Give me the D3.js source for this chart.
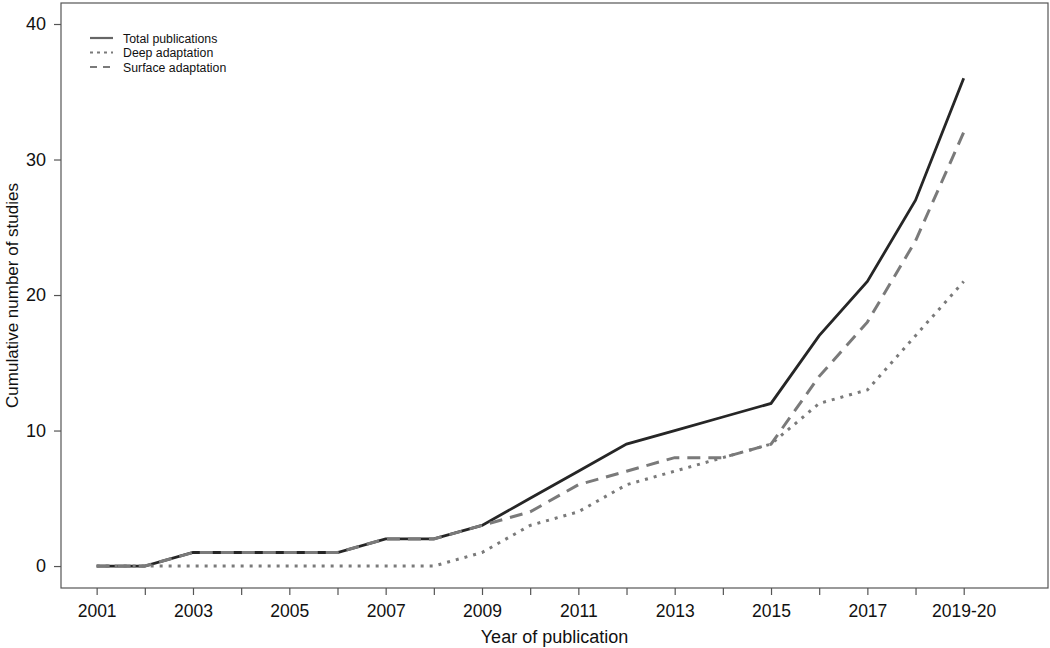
<!DOCTYPE html>
<html>
<head>
<meta charset="utf-8">
<script src="https://cdn.jsdelivr.net/npm/d3@7"></script>
<style>
  body { margin: 0; background: #fff; }
  svg { font-family: "Liberation Sans", Arial, sans-serif; }
</style>
</head>
<body>
<div id="chart"></div>
<script>
// data
const years = ["2001","2002","2003","2004","2005","2006","2007","2008","2009","2010",
               "2011","2012","2013","2014","2015","2016","2017","2018","2019-20"];
const totalPubs   = [0,0,1,1,1,1,2,2,3,5,7,9,10,11,12,17,21,27,36];
const deepAdapt   = [0,0,0,0,0,0,0,0,1,3,4,6,7,8,9,12,13,17,21];
const surfAdapt   = [0,0,1,1,1,1,2,2,3,4,6,7,8,8,9,14,18,24,32];
const xTickLabels = ["2001","2003","2005","2007","2009","2011","2013","2015","2017","2019-20"];
const yTicks = [0, 10, 20, 30, 40];

const width = 1050, height = 648;
const box = {left: 61, right: 1048, top: 3, bottom: 588};

const svg = d3.select("#chart").append("svg")
  .attr("width", width)
  .attr("height", height);

const x = d3.scaleLinear()
  .domain([-0.74, 19.75])
  .range([box.left, box.right]);

const y = d3.scaleLinear()
  .domain([-1.62, 41.55])
  .range([box.bottom, box.top]);

// frame
svg.append("rect")
  .attr("x", box.left).attr("y", box.top)
  .attr("width", box.right - box.left).attr("height", box.bottom - box.top)
  .attr("fill", "none").attr("stroke", "#555").attr("stroke-width", 1.2);

// x axis, one tick per year, label every other
const xAxis = d3.axisBottom(x)
  .tickValues(d3.range(years.length))
  .tickSize(7)
  .tickFormat(i => xTickLabels.includes(years[i]) ? years[i] : "");
const gx = svg.append("g")
  .attr("transform", `translate(0,${box.bottom})`)
  .call(xAxis);
gx.select(".domain").remove();
gx.selectAll(".tick line").attr("stroke", "#555").attr("stroke-width", 1.2);
gx.selectAll(".tick text").attr("font-size", 17.5).attr("fill", "#111")
  .attr("y", 29).attr("dy", 0);

// y axis
const yAxis = d3.axisLeft(y).tickValues(yTicks).tickSize(7);
const gy = svg.append("g")
  .attr("transform", `translate(${box.left},0)`)
  .call(yAxis);
gy.select(".domain").remove();
gy.selectAll(".tick line").attr("stroke", "#555").attr("stroke-width", 1.2);
gy.selectAll(".tick text").attr("font-size", 18).attr("fill", "#111").attr("x", -15);

// axis titles
svg.append("text")
  .attr("x", (box.left + box.right) / 2)
  .attr("y", 643)
  .attr("text-anchor", "middle")
  .attr("font-size", 18)
  .attr("fill", "#111")
  .text("Year of publication");

svg.append("text")
  .attr("transform", `translate(18,${(box.top + box.bottom) / 2}) rotate(-90)`)
  .attr("text-anchor", "middle")
  .attr("font-size", 17)
  .attr("fill", "#111")
  .text("Cumulative number of studies");

// series
const series = [
  {name: "Total publications", values: totalPubs, color: "#262626", width: 2.8, dash: null},
  {name: "Deep adaptation",    values: deepAdapt, color: "#7a7a7a", width: 3,   dash: "3,6"},
  {name: "Surface adaptation", values: surfAdapt, color: "#7a7a7a", width: 3,   dash: "13,8"}
];

const line = d3.line()
  .x((d, i) => x(i))
  .y(d => y(d));

svg.selectAll("path.series")
  .data(series)
  .join("path")
  .attr("class", "series")
  .attr("d", d => line(d.values))
  .attr("fill", "none")
  .attr("stroke", d => d.color)
  .attr("stroke-width", d => d.width)
  .attr("stroke-dasharray", d => d.dash);

// legend
const legend = svg.append("g").attr("transform", "translate(90,38)");
const rows = legend.selectAll("g")
  .data(series)
  .join("g")
  .attr("transform", (d, i) => `translate(0,${i * 14.5})`);
rows.append("line")
  .attr("x1", 0).attr("x2", 23)
  .attr("stroke", d => d.name === "Total publications" ? "#666" : d.color)
  .attr("stroke-width", 2.2)
  .attr("stroke-dasharray", d => d.dash === "3,6" ? "3,4" : d.dash ? "7,6" : null);
rows.append("text")
  .attr("x", 33).attr("y", 4.5)
  .attr("font-size", 12.3)
  .attr("fill", "#111")
  .text(d => d.name);
</script>
</body>
</html>
